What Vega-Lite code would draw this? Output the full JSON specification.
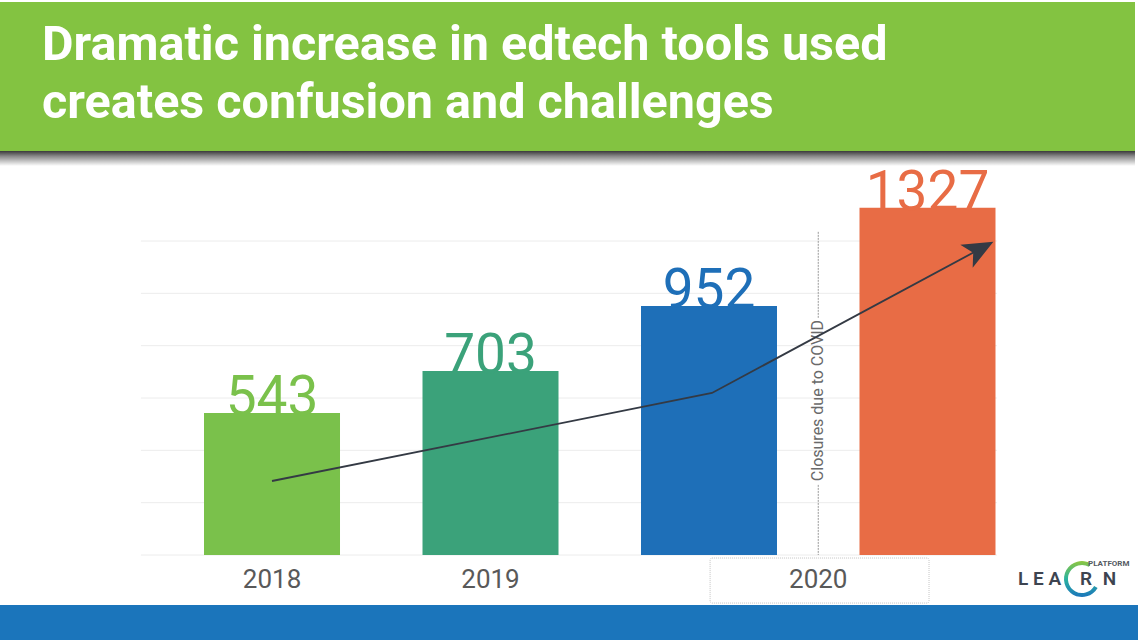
{
  "$schema": "https://vega.github.io/schema/vega-lite/v6.json",
  "width": 1138,
  "height": 640,
  "autosize": {"type": "none"},
  "padding": 0,
  "background": "#ffffff",
  "config": {"view": {"stroke": null}, "text": {"font": "Roboto"}, "scale": {"continuousPadding": 0}},
  "datasets": {
    "bars": [
      {"year": "2018", "key": "a", "pos": 0, "value": 543},
      {"year": "2019", "key": "b", "pos": 1, "value": 703},
      {"year": "2020", "key": "c", "pos": 2, "value": 952},
      {"year": "2020", "key": "d", "pos": 3, "value": 1327}
    ],
    "grid": [{"g": 0}, {"g": 200}, {"g": 400}, {"g": 600}, {"g": 800}, {"g": 1000}, {"g": 1200}],
    "trend": [
      {"t": 0, "pos": 0, "v": 282.8},
      {"t": 1, "pos": 2.0137, "v": 619.1},
      {"t": 2, "pos": 3.24, "v": 1169.4}
    ]
  },
  "layer": [
    {
      "data": {"values": [{}]},
      "mark": {"type": "rect", "color": "#83c341"},
      "encoding": {
        "x": {"datum": -1.2449, "type": "quantitative", "scale": {"domain": [-1.2449, 3.9634], "nice": false, "zero": false, "padding": 0}, "axis": null},
        "x2": {"datum": 3.9497},
        "y": {"datum": 1544, "type": "quantitative", "scale": {"domain": [-324.8, 2121], "nice": false, "zero": false, "padding": 0}, "axis": null},
        "y2": {"datum": 2113.3}
      }
    },
    {
      "data": {"values": [{}]},
      "mark": {"type": "rect", "color": {"gradient": "linear", "x1": 0, "y1": 0, "x2": 0, "y2": 1, "stops": [{"offset": 0, "color": "#3a3a3a"}, {"offset": 0.35, "color": "#8a8a8a"}, {"offset": 1, "color": "#ffffff"}]}},
      "encoding": {
        "x": {"datum": -1.2449, "type": "quantitative"},
        "x2": {"datum": 3.9497},
        "y": {"datum": 1486.6, "type": "quantitative"},
        "y2": {"datum": 1544}
      }
    },
    {
      "data": {"values": [{}]},
      "mark": {"type": "text", "text": "Dramatic increase in edtech tools used", "font": "Roboto", "fontWeight": "bold", "fontSize": 48.5, "color": "#ffffff", "align": "left", "baseline": "alphabetic"},
      "encoding": {
        "x": {"datum": -1.0526, "type": "quantitative"},
        "y": {"datum": 1891.7, "type": "quantitative"}
      }
    },
    {
      "data": {"values": [{}]},
      "mark": {"type": "text", "text": "creates confusion and challenges", "font": "Roboto", "fontWeight": "bold", "fontSize": 48.5, "color": "#ffffff", "align": "left", "baseline": "alphabetic"},
      "encoding": {
        "x": {"datum": -1.0526, "type": "quantitative"},
        "y": {"datum": 1670, "type": "quantitative"}
      }
    },
    {
      "data": {"name": "grid"},
      "mark": {"type": "rule", "color": "#ececec", "strokeWidth": 1},
      "encoding": {
        "x": {"datum": -0.6, "type": "quantitative"},
        "x2": {"datum": 3.318},
        "y": {"field": "g", "type": "quantitative"}
      }
    },
    {
      "data": {"name": "bars"},
      "mark": {"type": "bar", "width": 136},
      "encoding": {
        "x": {"field": "pos", "type": "quantitative"},
        "y": {"field": "value", "type": "quantitative"},
        "color": {"field": "key", "type": "nominal", "scale": {"domain": ["a", "b", "c", "d"], "range": ["#7ac14b", "#3ba27a", "#1e6fb8", "#e86c45"]}, "legend": null}
      }
    },
    {
      "data": {"name": "bars"},
      "mark": {"type": "text", "font": "Roboto", "fontWeight": 400, "fontSize": 55, "baseline": "alphabetic", "align": "center", "dy": 2},
      "encoding": {
        "x": {"field": "pos", "type": "quantitative"},
        "y": {"field": "value", "type": "quantitative"},
        "text": {"field": "value", "type": "quantitative"},
        "color": {"field": "key", "type": "nominal", "legend": null}
      }
    },
    {
      "data": {"values": [{}]},
      "mark": {"type": "rect", "fill": null, "fillOpacity": 0, "stroke": "#c4c4c4", "strokeWidth": 1, "strokeDash": [1, 1], "cornerRadius": 2},
      "encoding": {
        "x": {"datum": 2.005, "type": "quantitative"},
        "x2": {"datum": 3.007},
        "y": {"datum": -183.6, "type": "quantitative"},
        "y2": {"datum": -11.5}
      }
    },
    {
      "data": {"name": "bars"},
      "mark": {"type": "text", "font": "Roboto", "fontSize": 26, "color": "#595959", "baseline": "middle", "align": "center"},
      "encoding": {
        "x": {"aggregate": "mean", "field": "pos", "type": "quantitative"},
        "y": {"datum": -95.5, "type": "quantitative"},
        "text": {"field": "year", "type": "nominal"}
      }
    },
    {
      "data": {"values": [{"a": 1235, "b": 906}, {"a": 268, "b": 0}]},
      "mark": {"type": "rule", "color": "#9a9a9a", "strokeWidth": 1, "strokeDash": [2, 1]},
      "encoding": {
        "x": {"datum": 2.5, "type": "quantitative"},
        "y": {"field": "a", "type": "quantitative"},
        "y2": {"field": "b"}
      }
    },
    {
      "data": {"values": [{}]},
      "mark": {"type": "text", "text": "Closures due to COVID", "font": "Roboto", "fontSize": 16, "color": "#6a6a6a", "angle": 270, "align": "center", "baseline": "middle"},
      "encoding": {
        "x": {"datum": 2.5, "type": "quantitative"},
        "y": {"datum": 590.4, "type": "quantitative"}
      }
    },
    {
      "data": {"name": "trend"},
      "mark": {"type": "line", "color": "#343a44", "strokeWidth": 1.8},
      "encoding": {
        "x": {"field": "pos", "type": "quantitative"},
        "y": {"field": "v", "type": "quantitative"},
        "order": {"field": "t"}
      }
    },
    {
      "data": {"name": "trend"},
      "transform": [{"filter": "datum.t == 2"}],
      "mark": {"type": "point", "shape": "M1,0L-1,-0.85L-0.5,0L-1,0.85Z", "size": 936, "angle": -28.4, "filled": true, "color": "#343a44", "opacity": 1, "strokeWidth": 0},
      "encoding": {
        "x": {"field": "pos", "type": "quantitative"},
        "y": {"field": "v", "type": "quantitative"}
      }
    },
    {
      "data": {"values": [{}]},
      "mark": {"type": "rect", "color": "#1b75bb"},
      "encoding": {
        "x": {"datum": -1.2449, "type": "quantitative"},
        "x2": {"datum": 3.9634},
        "y": {"datum": -324.8, "type": "quantitative"},
        "y2": {"datum": -191.1}
      }
    },
    {
      "data": {"values": [{}]},
      "mark": {"type": "arc", "innerRadius": 14, "outerRadius": 18, "theta": 2.09, "theta2": 6.8, "fill": {"gradient": "linear", "x1": 0, "y1": 0, "x2": 0, "y2": 1, "stops": [{"offset": 0, "color": "#8dc63f"}, {"offset": 0.5, "color": "#2ab3a0"}, {"offset": 1, "color": "#1b75bb"}]}},
      "encoding": {
        "x": {"datum": 3.707, "type": "quantitative"},
        "y": {"datum": -91.7, "type": "quantitative"}
      }
    },
    {
      "data": {"values": [{}]},
      "mark": {"type": "text", "text": "L E A", "font": "Roboto", "fontWeight": 600, "fontSize": 19, "color": "#3d4450", "align": "left", "baseline": "middle"},
      "encoding": {
        "x": {"datum": 3.414, "type": "quantitative"},
        "y": {"datum": -91.7, "type": "quantitative"}
      }
    },
    {
      "data": {"values": [{}]},
      "mark": {"type": "text", "text": "R", "font": "Roboto", "fontWeight": 600, "fontSize": 19, "color": "#3d4450", "align": "center", "baseline": "middle"},
      "encoding": {
        "x": {"datum": 3.725, "type": "quantitative"},
        "y": {"datum": -91.7, "type": "quantitative"}
      }
    },
    {
      "data": {"values": [{}]},
      "mark": {"type": "text", "text": "N", "font": "Roboto", "fontWeight": 600, "fontSize": 19, "color": "#3d4450", "align": "center", "baseline": "middle"},
      "encoding": {
        "x": {"datum": 3.8325, "type": "quantitative"},
        "y": {"datum": -91.7, "type": "quantitative"}
      }
    },
    {
      "data": {"values": [{}]},
      "mark": {"type": "text", "text": "PLATFORM", "font": "Roboto", "fontWeight": "bold", "fontSize": 8, "color": "#555b63", "align": "left", "baseline": "middle"},
      "encoding": {
        "x": {"datum": 3.7346, "type": "quantitative"},
        "y": {"datum": -32.5, "type": "quantitative"}
      }
    }
  ]
}
